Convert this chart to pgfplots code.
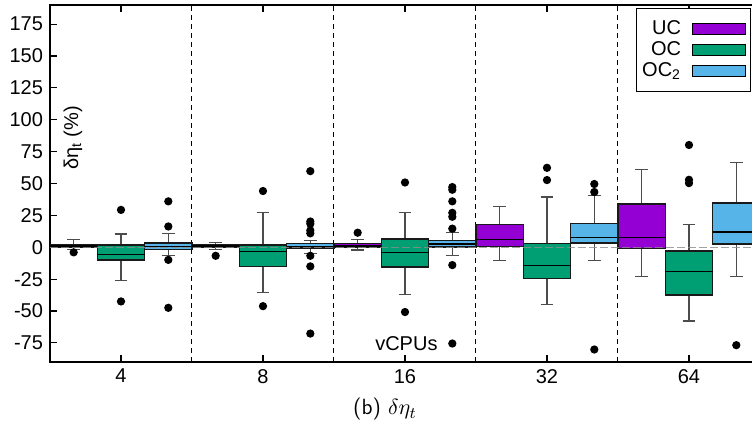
\documentclass[border=0pt]{standalone}
\usepackage{pgfplots}
\pgfplotsset{compat=1.18}
\usepgfplotslibrary{statistics}
\usepackage{fontspec}
\newfontfamily\helv{Liberation Sans}
\definecolor{uc}{HTML}{9400D3}
\definecolor{oc}{HTML}{009E73}
\definecolor{octwo}{HTML}{56B4E9}

\pgfplotsset{
  bx/.style={forget plot, draw=black, line width=0.6pt,
    boxplot/every box/.style={draw=black!90, line width=0.75pt, fill=#1},
    mark=*, mark size=1.75pt, mark options={fill=black, draw=black, solid}},
}

\begin{document}
\begin{tikzpicture}
\begin{axis}[
  at={(0,0)}, anchor=south west,
  scale only axis, width=355pt, height=178.5pt,
  xmin=-0.5, xmax=4.5, ymin=-90, ymax=190,
  xtick={0,1,2,3,4}, xticklabels={4,8,16,32,64},
  ytick={-75,-50,...,175},
  xtick pos=both, ytick pos=left,
  tick align=inside, major tick length=3.5pt,
  tick style={black, line width=0.6pt},
  axis line style={line width=0.7pt},
  tick label style={font=\helv\fontsize{10}{12}\selectfont},
  /pgf/number format/assume math mode=true,
  boxplot/draw direction=y,
  boxplot/box extend=0.3333,
  boxplot/whisker extend=0.09,
  boxplot/every whisker/.style={draw=black!70},
  boxplot/every median/.style={draw=black},
  legend plot pos=right,
  legend cell align=right,
  legend style={at={(rel axis cs:0.8254,0.9916)}, anchor=north west,
    draw=black, line width=0.6pt, font=\helv\fontsize{10}{12}\selectfont,
    inner xsep=2.3pt, inner ysep=5pt, row sep=0pt, column sep=5pt,
    nodes={inner sep=0.5pt, text height=7.2pt, text depth=2.3pt}},
]
% separators
\addplot[forget plot, black, line width=0.5pt, dash pattern=on 2.5pt off 2pt] coordinates {(0.5,-90) (0.5,190)};
\addplot[forget plot, black, line width=0.5pt, dash pattern=on 2.5pt off 2pt] coordinates {(1.5,-90) (1.5,190)};
\addplot[forget plot, black, line width=0.5pt, dash pattern=on 2.5pt off 2pt] coordinates {(2.5,-90) (2.5,190)};
\addplot[forget plot, black, line width=0.5pt, dash pattern=on 2.5pt off 2pt] coordinates {(3.5,-90) (3.5,190)};

\addlegendimage{legend image code/.code={\draw[fill=uc,draw=black,line width=0.6pt] (0pt,-2.75pt) rectangle (26.5pt,2.75pt);}}
\addlegendentry{UC}
\addlegendimage{legend image code/.code={\draw[fill=oc,draw=black,line width=0.6pt] (0pt,-2.75pt) rectangle (26.5pt,2.75pt);}}
\addlegendentry{OC}
\addlegendimage{legend image code/.code={\draw[fill=octwo,draw=black,line width=0.6pt] (0pt,-2.75pt) rectangle (26.5pt,2.75pt);}}
\addlegendentry{OC\textsubscript{2}}

% 4 vCPUs
\addplot[bx=uc, boxplot prepared={draw position=-0.3333, lower whisker=-1.5, lower quartile=0.3, median=1, upper quartile=1.8, upper whisker=6}]
  table[row sep=\\, y index=0] {data\\ -4\\};
\addplot[bx=oc, boxplot prepared={draw position=0, lower whisker=-25.9, lower quartile=-10.1, median=-5.7, upper quartile=1.8, upper whisker=10.4}]
  table[row sep=\\, y index=0] {data\\ 29.3\\ -42.5\\};
\addplot[bx=octwo, boxplot prepared={draw position=0.3333, lower whisker=-6.7, lower quartile=-1.6, median=0.5, upper quartile=3.4, upper whisker=10.6}]
  table[row sep=\\, y index=0] {data\\ 36\\ 16.3\\ -9.9\\ -47.5\\};

% 8 vCPUs
\addplot[bx=uc, boxplot prepared={draw position=0.6667, lower whisker=-1.6, lower quartile=0.3, median=1, upper quartile=2.2, upper whisker=3.9}]
  table[row sep=\\, y index=0] {data\\ -6.7\\};
\addplot[bx=oc, boxplot prepared={draw position=1, lower whisker=-35.8, lower quartile=-15, median=-3.4, upper quartile=1.8, upper whisker=27.5}]
  table[row sep=\\, y index=0] {data\\ 44.1\\ -46.2\\};
\addplot[bx=octwo, boxplot prepared={draw position=1.3333, lower whisker=-5.2, lower quartile=-0.5, median=0.5, upper quartile=2.9, upper whisker=5.4}]
  table[row sep=\\, y index=0] {data\\ 59.7\\ 20.2\\ 18.4\\ 13.2\\ 10.9\\ -6.7\\ -15\\ -67.7\\};

% 16 vCPUs
\addplot[bx=uc, boxplot prepared={draw position=1.6667, lower whisker=-2.1, lower quartile=-0.2, median=1, upper quartile=2.9, upper whisker=6.2}]
  table[row sep=\\, y index=0] {data\\ 11.4\\};
\addplot[bx=oc, boxplot prepared={draw position=2, lower whisker=-37.1, lower quartile=-15.3, median=-4.4, upper quartile=6.5, upper whisker=27.2}]
  table[row sep=\\, y index=0] {data\\ 50.8\\ -50.8\\};
\addplot[bx=octwo, boxplot prepared={draw position=2.3333, lower whisker=-6.5, lower quartile=0.2, median=2.6, upper quartile=5.4, upper whisker=11.4}]
  table[row sep=\\, y index=0] {data\\ 47.2\\ 45.1\\ 36\\ 27\\ 23.9\\ 14.6\\ -14\\ -75.5\\};

% 32 vCPUs
\addplot[bx=uc, boxplot prepared={draw position=2.6667, lower whisker=-10.4, lower quartile=0.5, median=6.2, upper quartile=17.9, upper whisker=32.1}]
  coordinates {};
\addplot[bx=oc, boxplot prepared={draw position=3, lower whisker=-44.9, lower quartile=-24.4, median=-14.3, upper quartile=2.9, upper whisker=39.4}]
  table[row sep=\\, y index=0] {data\\ 62.3\\ 52.7\\};
\addplot[bx=octwo, boxplot prepared={draw position=3.3333, lower whisker=-10.4, lower quartile=3.4, median=7.5, upper quartile=18.7, upper whisker=40.7}]
  table[row sep=\\, y index=0] {data\\ 49.6\\ 43.3\\ -80.2\\};

% 64 vCPUs
\addplot[bx=uc, boxplot prepared={draw position=3.6667, lower whisker=-23.1, lower quartile=-0.8, median=7.5, upper quartile=34, upper whisker=60.9}]
  coordinates {};
\addplot[bx=oc, boxplot prepared={draw position=4, lower whisker=-57.8, lower quartile=-37.4, median=-18.9, upper quartile=-3.1, upper whisker=17.7}]
  table[row sep=\\, y index=0] {data\\ 80.2\\ 52.9\\ 50.3\\};
\addplot[bx=octwo, boxplot prepared={draw position=4.3333, lower whisker=-23.1, lower quartile=2.6, median=11.9, upper quartile=34.8, upper whisker=66.4}]
  table[row sep=\\, y index=0] {data\\ -76.8\\};

% zero line
\addplot[forget plot, black!45, opacity=0.8, line width=0.7pt, dash pattern=on 4pt off 1.5pt] coordinates {(-0.5,0) (4.5,0)};

\node[font=\helv\fontsize{10}{12}\selectfont] at (axis cs:2.01,-75.5) {vCPUs};
\node[font=\helv\fontsize{10}{12}\selectfont, rotate=90] at (rel axis cs:0.0324,0.6275) {δη\textsubscript{t} (\%)};
\end{axis}
\node[font=\sffamily\fontsize{11}{13}\selectfont, anchor=base] at (167.5pt,-26.5pt) {(b) $\delta\eta_t$};
\pgfresetboundingbox
\useasboundingbox (-25pt,-33.5pt) rectangle (351pt,181pt);
\end{tikzpicture}
\end{document}
